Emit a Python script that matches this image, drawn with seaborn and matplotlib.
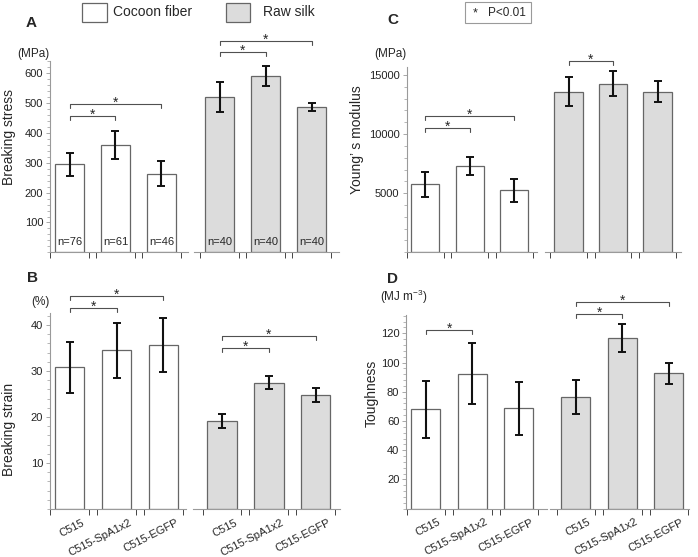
import numpy as np
import matplotlib
matplotlib.use('Agg')
import matplotlib.pyplot as plt
from matplotlib.patches import Rectangle
from matplotlib.ticker import MultipleLocator
import seaborn as sns

# ---- datos ----
strains = ['C515', 'C515-SpA1x2', 'C515-EGFP']

stress_cocoon = [295, 360, 264]
stress_cocoon_err = [38, 47, 41]
stress_raw = [521, 591, 488]
stress_raw_err = [51, 35, 13]
n_cocoon = [76, 61, 46]
n_raw = [40, 40, 40]

strain_cocoon = [30.8, 34.5, 35.7]
strain_cocoon_err = [5.6, 6.0, 5.9]
strain_raw = [19.2, 27.5, 24.8]
strain_raw_err = [1.55, 1.45, 1.6]

young_cocoon = [5760, 7280, 5230]
young_cocoon_err = [1050, 750, 970]
young_raw = [13580, 14250, 13580]
young_raw_err = [1240, 1070, 880]

tough_cocoon = [68.0, 92.5, 68.7]
tough_cocoon_err = [19.3, 21.2, 18.0]
tough_raw = [76.5, 117.0, 92.6]
tough_raw_err = [11.6, 9.6, 7.3]

# brackets de significancia: (barra i, barra j, altura)
stress_sig_cocoon = [(0, 1, 458), (0, 2, 498)]
stress_sig_raw = [(0, 1, 670), (0, 2, 709)]
strain_sig_cocoon = [(0, 1, 43.6), (0, 2, 46.2)]
strain_sig_raw = [(0, 1, 34.9), (0, 2, 37.7)]
young_sig_cocoon = [(0, 1, 10506), (0, 2, 11518)]
young_sig_raw = [(0, 1, 16189)]
tough_sig_cocoon = [(0, 1, 122)]
tough_sig_raw = [(0, 1, 133.4), (0, 2, 141.6)]

sns.set_style('ticks')
plt.rcParams['font.family'] = ['Liberation Sans', 'DejaVu Sans']
plt.rcParams['mathtext.fontset'] = 'custom'
plt.rcParams['mathtext.rm'] = 'Liberation Sans'
plt.rcParams['mathtext.default'] = 'regular'

W, H = 698, 557
fig = plt.figure(figsize=(W / 100, H / 100), dpi=100)

def fx(px):
    return px / W

def fy(py):
    return 1 - py / H

SPINE = '#9a9a9a'
EDGE = '#666666'
GRAY = '#dcdcdc'


def make_ax(x0, x1, y0, ytop_px):
    return fig.add_axes([fx(x0), fy(y0), (x1 - x0) / W, (y0 - ytop_px) / H])


def draw_group(ax, vals, errs, fill, sigs, ylim, drop):
    sns.barplot(x=strains, y=vals, ax=ax, color=fill, saturation=1, width=0.63,
                edgecolor=EDGE, linewidth=0.9, errorbar=None)
    ax.errorbar(np.arange(3), vals, yerr=errs, fmt='none', ecolor='#111111',
                elinewidth=1.5, capsize=2.8, capthick=1.4, zorder=5)
    ax.set_ylim(0, ylim)
    for i, j, y in sigs:
        ax.plot([i, i, j, j], [y - drop, y, y, y - drop], color='#505050', lw=0.8,
                clip_on=False)
        ax.annotate('*', (0.5 * (i + j), y), xytext=(0, -2), textcoords='offset points',
                    ha='center', va='baseline', fontsize=10, annotation_clip=False)
    ax.set_xticks([i + d for i in range(3) for d in (-0.415, 0.415)], minor=True)
    ax.tick_params(axis='x', which='major', length=0)
    ax.tick_params(axis='x', which='minor', length=4, width=0.7, color='#444444')
    ax.set_xlabel('')
    ax.set_ylabel('')
    for s in ('top', 'right'):
        ax.spines[s].set_visible(False)
    for s in ('left', 'bottom'):
        ax.spines[s].set_color(SPINE)
        ax.spines[s].set_linewidth(0.8)


def panel(spec, cocoon, cocoon_err, raw, raw_err, sig_c, sig_r, yticks, minor, bottom_labels):
    c0, s, lhi, r0, rlo, rhi, y0, ppu, ytop = spec
    top_px = y0 - ytop * ppu
    drop = 4 / ppu
    axl = make_ax(c0 - 0.42 * s, c0 + lhi * s, y0, top_px)
    axr = make_ax(r0 + rlo * s, r0 + rhi * s, y0, top_px)
    draw_group(axl, cocoon, cocoon_err, 'white', sig_c, ytop, drop)
    draw_group(axr, raw, raw_err, GRAY, sig_r, ytop, drop)
    axl.set_xlim(-0.42, lhi)
    axr.set_xlim(rlo, rhi)
    axl.set_yticks(yticks)
    axl.yaxis.set_minor_locator(MultipleLocator(minor))
    axl.tick_params(axis='y', which='major', length=3, width=0.6, color=SPINE,
                    labelsize=8, pad=2, labelcolor='#222222')
    axl.tick_params(axis='y', which='minor', length=2, width=0.5, color=SPINE)
    axr.spines['left'].set_visible(False)
    axr.tick_params(axis='y', which='both', left=False, labelleft=False)
    for ax in (axl, axr):
        if bottom_labels:
            # etiquetas desplazadas a la derecha del centro de la barra
            ax.set_xticks(np.arange(3) + 0.26)
            ax.set_xticklabels(strains, rotation=27, ha='right', va='top',
                               rotation_mode='anchor', fontsize=8)
            ax.tick_params(axis='x', which='major', pad=6)
        else:
            ax.set_xticks([])
    return axl, axr


# A: esfuerzo de rotura
axA, axA2 = panel((69.5, 46, 2.58, 219.5, -0.55, 2.6, 252.3, 0.2983, 640),
                  stress_cocoon, stress_cocoon_err, stress_raw, stress_raw_err,
                  stress_sig_cocoon, stress_sig_raw, [100, 200, 300, 400, 500, 600], 20, False)
for ax, ns in ((axA, n_cocoon), (axA2, n_raw)):
    for i, n in enumerate(ns):
        ax.text(i, 35, f'n={n}', ha='center', va='center', fontsize=8)

# B: deformacion de rotura
panel((69.7, 46.8, 2.49, 222, -0.61, 2.52, 509, 4.6, 42.7),
      strain_cocoon, strain_cocoon_err, strain_raw, strain_raw_err,
      strain_sig_cocoon, strain_sig_raw, [10, 20, 30, 40], 2, True)

# C: modulo de Young
panel((425.2, 44.5, 2.52, 568.5, -0.535, 2.53, 252.3, 0.011827, 15700),
      young_cocoon, young_cocoon_err, young_raw, young_raw_err,
      young_sig_cocoon, young_sig_raw, [5000, 10000, 15000], 1000, False)

# D: tenacidad
panel((425.8, 46.5, 2.61, 575.8, -0.55, 2.44, 508.7, 1.4615, 132.5),
      tough_cocoon, tough_cocoon_err, tough_raw, tough_raw_err,
      tough_sig_cocoon, tough_sig_raw, [20, 40, 60, 80, 100, 120], 4, True)

# letras de panel
for letter, x, y in (('A', 31, 23), ('B', 32, 277.5), ('C', 393, 20), ('D', 393, 278.7)):
    fig.text(fx(x), fy(y), letter, fontsize=11, fontweight='bold', ha='center', va='center')

# unidades
for txt, x, y in (('(MPa)', 33.5, 54), ('(%)', 40, 302), ('(MPa)', 390, 54),
                  ('(MJ m$^{-3}$)', 403.5, 297)):
    fig.text(fx(x), fy(y), txt, fontsize=8.5, ha='center', va='center')

# etiquetas de eje y
for txt, x, y in (('Breaking stress', 9, 137), ('Breaking strain', 9, 429),
                  ('Young\u2019 s modulus', 357, 140), ('Toughness', 372, 393)):
    fig.text(fx(x), fy(y), txt, fontsize=10, rotation=90, ha='center', va='center')

# leyenda
fig.add_artist(Rectangle((fx(82), fy(22)), 25 / W, 19 / H, transform=fig.transFigure,
                         facecolor='white', edgecolor=EDGE, lw=0.9))
fig.text(fx(113), fy(12.5), 'Cocoon fiber', fontsize=10, ha='left', va='center')
fig.add_artist(Rectangle((fx(226), fy(22)), 24 / W, 19 / H, transform=fig.transFigure,
                         facecolor=GRAY, edgecolor=EDGE, lw=0.9))
fig.text(fx(263), fy(12.5), 'Raw silk', fontsize=10, ha='left', va='center')
fig.add_artist(Rectangle((fx(465), fy(23)), 66 / W, 21 / H, transform=fig.transFigure,
                         facecolor='white', edgecolor=SPINE, lw=0.8))
fig.text(fx(474.7), fy(13.5), '*', fontsize=9, ha='center', va='center')
fig.text(fx(488), fy(12.5), 'P<0.01', fontsize=8.5, ha='left', va='center')

fig.savefig('out.png', dpi=100)
